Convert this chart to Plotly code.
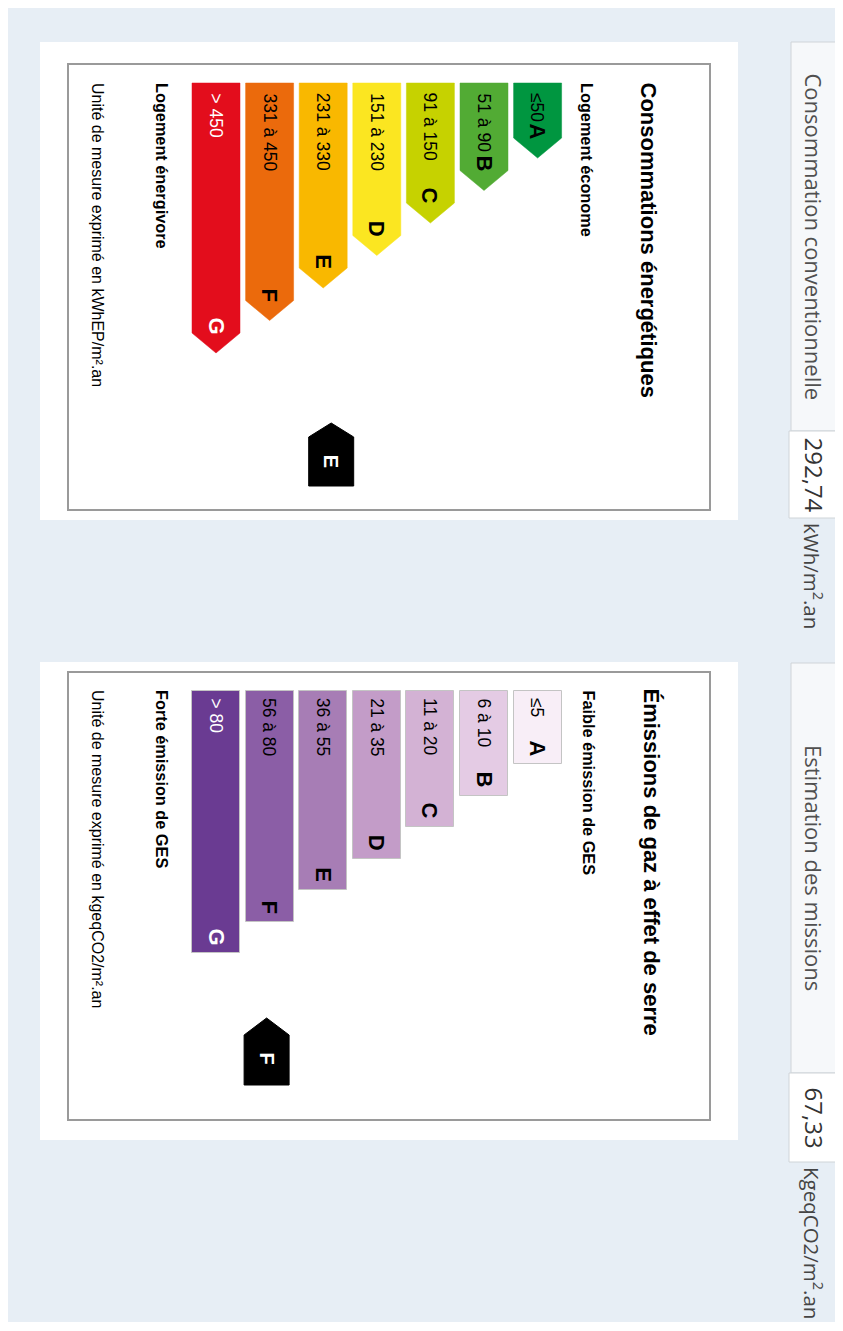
import plotly.graph_objects as go

# ---------------- data ----------------
classes = ["A", "B", "C", "D", "E", "F", "G"]
dpe_ranges = ["≤50", "51 à 90", "91 à 150", "151 à 230", "231 à 330", "331 à 450", "> 450"]
ges_ranges = ["≤5", "6 à 10", "11 à 20", "21 à 35", "36 à 55", "56 à 80", "> 80"]
dpe_colors = ["#009640", "#52ab34", "#c6d200", "#fbe621", "#f9b800", "#eb6a0c", "#e30d1c"]
ges_colors = ["#f8eef7", "#e4cbe4", "#d3b2d4", "#c39cc8", "#a77db5", "#8b5ea6", "#6a3b92"]
dpe_text_colors = ["black"] * 6 + ["white"]
ges_text_colors = ["black"] * 6 + ["white"]

dpe_title = "Consommations énergétiques"
dpe_low = "Logement économe"
dpe_high = "Logement énergivore"
dpe_unit_note = "Unité de mesure exprimé en kWhEP/m².an"
ges_title = "Émissions de gaz à effet de serre"
ges_low = "Faible émission de GES"
ges_high = "Forte émission de GES"
ges_unit_note = "Unité de mesure exprimé en kgeqCO2/m².an"

dpe_label = "Consommation conventionnelle"
dpe_value = "292,74"
dpe_unit = "kWh/m<sup>2</sup>.an"
dpe_class = "E"
ges_label = "Estimation des missions"
ges_value = "67,33"
ges_unit = "KgeqCO2/m<sup>2</sup>.an"
ges_class = "F"

# ---------------- layout geometry (page pixels, the page body has an 8px margin) ----------------
X0, X1 = 8, 843
Y0, Y1 = 8, 1322
LABEL_FONT = "Arial, Liberation Sans, sans-serif"
UI_FONT = "Open Sans, sans-serif"
BAR_W = 48
CX_G = 216.0
PITCH = 53.6


def bar_center(i):
    # class index 0 (A) is rightmost, 6 (G) leftmost
    return CX_G + (6 - i) * PITCH


fig = go.Figure()
shapes = []
annotations = []


def panel(top_white, bot_white, box_top, box_bot):
    shapes.append(dict(type="rect", x0=40, x1=738, y0=top_white, y1=bot_white,
                       fillcolor="white", line=dict(width=0), layer="below"))
    shapes.append(dict(type="rect", x0=68, x1=710, y0=box_top, y1=box_bot,
                       fillcolor="white", line=dict(color="#9a9a9a", width=2), layer="below"))


def vtext(x, y, text, size, color="black", family=LABEL_FONT, yanchor="top", xanchor="center"):
    annotations.append(dict(x=x, y=y, xref="x", yref="y", text=text, showarrow=False,
                            textangle=90, xanchor=xanchor, yanchor=yanchor,
                            font=dict(family=family, size=size, color=color)))


def house(cx, tip, shoulder, bottom, letter, letter_y):
    hw = 22.5
    fig.add_trace(go.Scatter(
        x=[cx - hw, cx - hw, cx, cx + hw, cx + hw, cx - hw],
        y=[bottom, shoulder, tip, shoulder, bottom, bottom],
        mode="lines", fill="toself", fillcolor="black",
        line=dict(color="black", width=1), hoverinfo="skip", showlegend=False))
    vtext(cx, letter_y, "<b>" + letter + "</b>", 20, color="white", yanchor="middle")


# ---------------- panel 1 : energy ----------------
panel(42, 520, 64, 510)
top1 = 83
for i, c in enumerate(classes):
    cx = bar_center(i)
    rect_end = top1 + 55 + 32.5 * i
    tip = rect_end + 20
    hw = BAR_W / 2
    fig.add_trace(go.Scatter(
        x=[cx - hw, cx + hw, cx + hw, cx, cx - hw, cx - hw],
        y=[top1, top1, rect_end, tip, rect_end, top1],
        mode="lines", fill="toself", fillcolor=dpe_colors[i],
        line=dict(color=dpe_colors[i], width=0.5), hoverinfo="skip", showlegend=False))
    vtext(cx, top1 + 8, dpe_ranges[i], 17.5, color=dpe_text_colors[i])
    vtext(cx, rect_end + 3, "<b>" + c + "</b>", 22, color=dpe_text_colors[i], yanchor="bottom")

vtext(648, 80, "<b>" + dpe_title + "</b>", 22)
vtext(587, 81, "<b>" + dpe_low + "</b>", 16.3)
vtext(162, 81, "<b>" + dpe_high + "</b>", 16.3)
vtext(98, 81, dpe_unit_note, 16)
house(bar_center(classes.index(dpe_class)) + 8, 423, 437, 486, dpe_class, 461)

# ---------------- panel 2 : GES ----------------
panel(662, 1140, 672, 1120)
top2 = 691
ges_len = [73 + 31.5 * i for i in range(7)]
fig.add_trace(go.Bar(
    x=[bar_center(i) for i in range(7)], y=ges_len, base=[top2] * 7, width=BAR_W,
    marker=dict(color=ges_colors, line=dict(color="#c4c4c4", width=1)),
    hoverinfo="skip", showlegend=False))
for i, c in enumerate(classes):
    cx = bar_center(i)
    vtext(cx, top2 + 5, ges_ranges[i], 17.5, color=ges_text_colors[i])
    vtext(cx, top2 + ges_len[i] - 6, "<b>" + c + "</b>", 22, color=ges_text_colors[i], yanchor="bottom")

vtext(651, 686, "<b>" + ges_title + "</b>", 22)
vtext(589, 688, "<b>" + ges_low + "</b>", 16.3)
vtext(162, 688, "<b>" + ges_high + "</b>", 16.3)
vtext(98, 688, ges_unit_note, 16)
house(bar_center(classes.index(ges_class)) - 3, 1018, 1035, 1085, ges_class, 1058)

# ---------------- right column ----------------
def side(box_top, box_mid, box_bot, label, value, unit):
    shapes.append(dict(type="rect", x0=791, x1=838, y0=box_top, y1=box_mid,
                       fillcolor="#f6f8fa", line=dict(color="#cfd4d8", width=1), layer="below"))
    shapes.append(dict(type="rect", x0=789, x1=838, y0=box_mid, y1=box_bot,
                       fillcolor="white", line=dict(color="#cfd4d8", width=1), layer="below"))
    vtext(814, (box_top + box_mid) / 2, label, 22, color="#505050", family=UI_FONT, yanchor="middle")
    vtext(814, (box_mid + box_bot) / 2, value, 24, color="#333333", family=UI_FONT, yanchor="middle")
    vtext(813, box_bot + 3, unit, 20.5, color="#444444", family=UI_FONT)


side(42, 431, 518, dpe_label, dpe_value, dpe_unit)
side(663, 1073, 1162, ges_label, ges_value, ges_unit)

fig.update_layout(
    width=X1 - X0, height=Y1 - Y0, autosize=False,
    margin=dict(l=0, r=0, t=0, b=0),
    paper_bgcolor="#e7eef5", plot_bgcolor="#e7eef5",
    xaxis=dict(range=[X0, X1], visible=False, fixedrange=True),
    yaxis=dict(range=[Y1, Y0], visible=False, fixedrange=True),
    shapes=shapes, annotations=annotations, showlegend=False,
    bargap=0,
)

fig.write_html("out.html", config=dict(displayModeBar=False))
